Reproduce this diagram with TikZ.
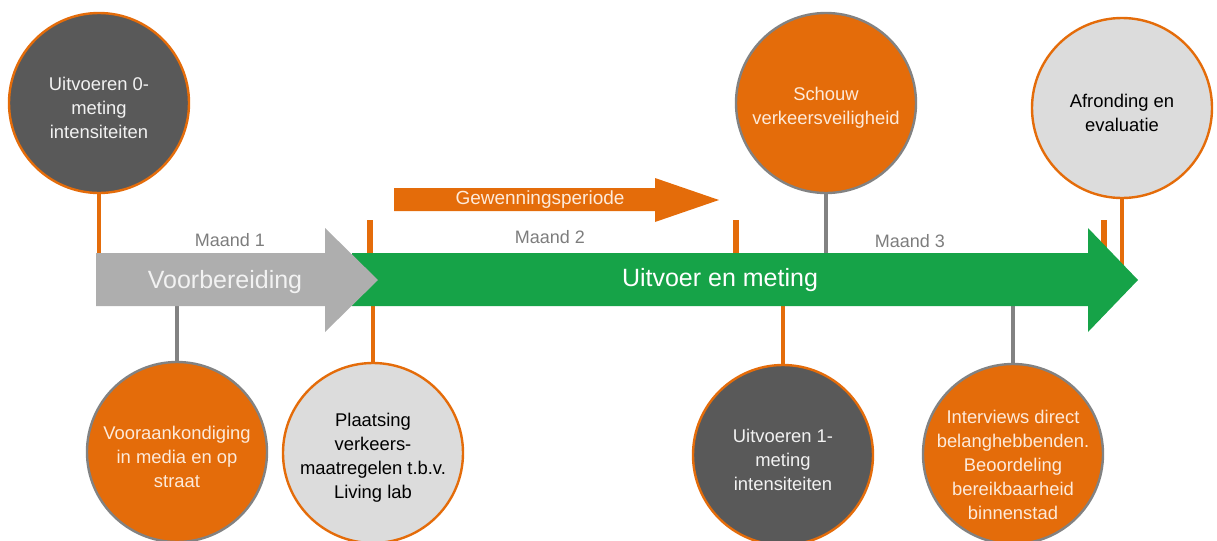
\documentclass[tikz,border=0pt]{standalone}
\usepackage{fontspec}
\setmainfont{Liberation Sans}
\usetikzlibrary{calc}

\definecolor{oranje}{RGB}{228,108,10}
\definecolor{donker}{RGB}{89,89,89}
\definecolor{lichtgrijs}{RGB}{220,220,220}
\definecolor{pijlgrijs}{RGB}{174,174,174}
\definecolor{groen}{RGB}{22,163,72}
\definecolor{randgrijs}{RGB}{130,130,130}
\definecolor{creme}{RGB}{253,234,218}
\definecolor{wittig}{RGB}{242,242,242}
\definecolor{maandgrijs}{RGB}{125,125,125}

\tikzset{
	mijlpaal/.style={circle, minimum size=90pt, inner sep=0pt, line width=1.2pt},
	cirkeltekst/.style={align=center, font=\fontsize{9.2}{12}\selectfont, yshift=-2.5pt},
	verbind/.style={line width=1.8pt},
	streep/.style={line width=3pt, oranje},
	maand/.style={text=maandgrijs, font=\fontsize{9}{11}\selectfont},
	fasetekst/.style={font=\fontsize{12.5}{15}\selectfont}
}

\begin{document}
\begin{tikzpicture}[x=0.5pt, y=-0.5pt]
		\useasboundingbox (0,0) rectangle (1217,541);
		% bovenkant en onderkant van de fasepijlen
		\coordinate (boven) at (0,253);
		\coordinate (onder) at (0,306);

		% mijlpalen boven
		\node[mijlpaal, fill=donker, draw=oranje, label={[cirkeltekst, text=wittig]center:{Uitvoeren 0-\\meting\\intensiteiten}}] (nulmeting) at (99,103) {};
		\node[mijlpaal, fill=oranje, draw=randgrijs, label={[cirkeltekst, text=creme]center:{Schouw\\verkeersveiligheid}}] (schouw) at (826,103) {};
		\node[mijlpaal, fill=lichtgrijs, draw=oranje, label={[cirkeltekst, text=black]center:{Afronding en\\evaluatie}}] (afronding) at (1122,108) {};
		% mijlpalen onder
		\node[mijlpaal, fill=oranje, draw=randgrijs, label={[cirkeltekst, text=creme]center:{Vooraankondiging\\in media en op\\straat}}] (vooraankondiging) at (177,452) {};
		\node[mijlpaal, fill=lichtgrijs, draw=oranje, label={[cirkeltekst, text=black]center:{Plaatsing\\verkeers-\\maatregelen t.b.v.\\Living lab}}] (plaatsing) at (373,453) {};
		\node[mijlpaal, fill=donker, draw=oranje, label={[cirkeltekst, text=wittig]center:{Uitvoeren 1-\\meting\\intensiteiten}}] (eenmeting) at (783,455) {};
		\node[mijlpaal, fill=oranje, draw=randgrijs, label={[cirkeltekst, text=creme, yshift=-3pt]center:{Interviews direct\\belanghebbenden.\\Beoordeling\\bereikbaarheid\\binnenstad}}] (interviews) at (1013,454) {};

		% verbindingen naar de tijdlijn
		\draw[verbind, oranje] (nulmeting.south) -- (nulmeting.south |- boven);
		\draw[verbind, randgrijs] (schouw.south) -- (schouw.south |- boven);
		\draw[verbind, oranje] (afronding.south) -- ($(afronding.south |- boven)+(0,15)$);
		\draw[verbind, randgrijs] (vooraankondiging.north) -- (vooraankondiging.north |- onder);
		\draw[verbind, oranje] (plaatsing.north) -- (plaatsing.north |- onder);
		\draw[verbind, oranje] (eenmeting.north) -- (eenmeting.north |- onder);
		\draw[verbind, randgrijs] (interviews.north) -- (interviews.north |- onder);

		% maandgrenzen
		\foreach \x in {370, 736, 1104}
			\draw[streep] (\x,220) -- (\x,253);

		% fasepijlen
		\fill[groen] (352,253) -- (1088,253) -- (1088,228) -- (1138,280) -- (1088,332) -- (1088,306) -- (352,306) -- cycle;
		\fill[pijlgrijs] (96,253) -- (325,253) -- (325,228) -- (378,280) -- (325,332) -- (325,306) -- (96,306) -- cycle;
		\fill[oranje] (394,188) -- (655,188) -- (655,178) -- (719,200) -- (655,222) -- (655,211) -- (394,211) -- cycle;

		\node[fasetekst, text=wittig] (voorbereiding) at (225,282) {Voorbereiding};
		\node[fasetekst, text=white] (uitvoer) at (720,280) {Uitvoer en meting};
		\node[text=creme, font=\fontsize{9.5}{11}\selectfont] (gewenning) at (540,200) {Gewenningsperiode};

		\node[maand] (maandeen) at (230,240) {Maand 1};
		\node[maand] (maandtwee) at (550,237) {Maand 2};
		\node[maand] (maanddrie) at (910,241) {Maand 3};
	\end{tikzpicture}
\end{document}
